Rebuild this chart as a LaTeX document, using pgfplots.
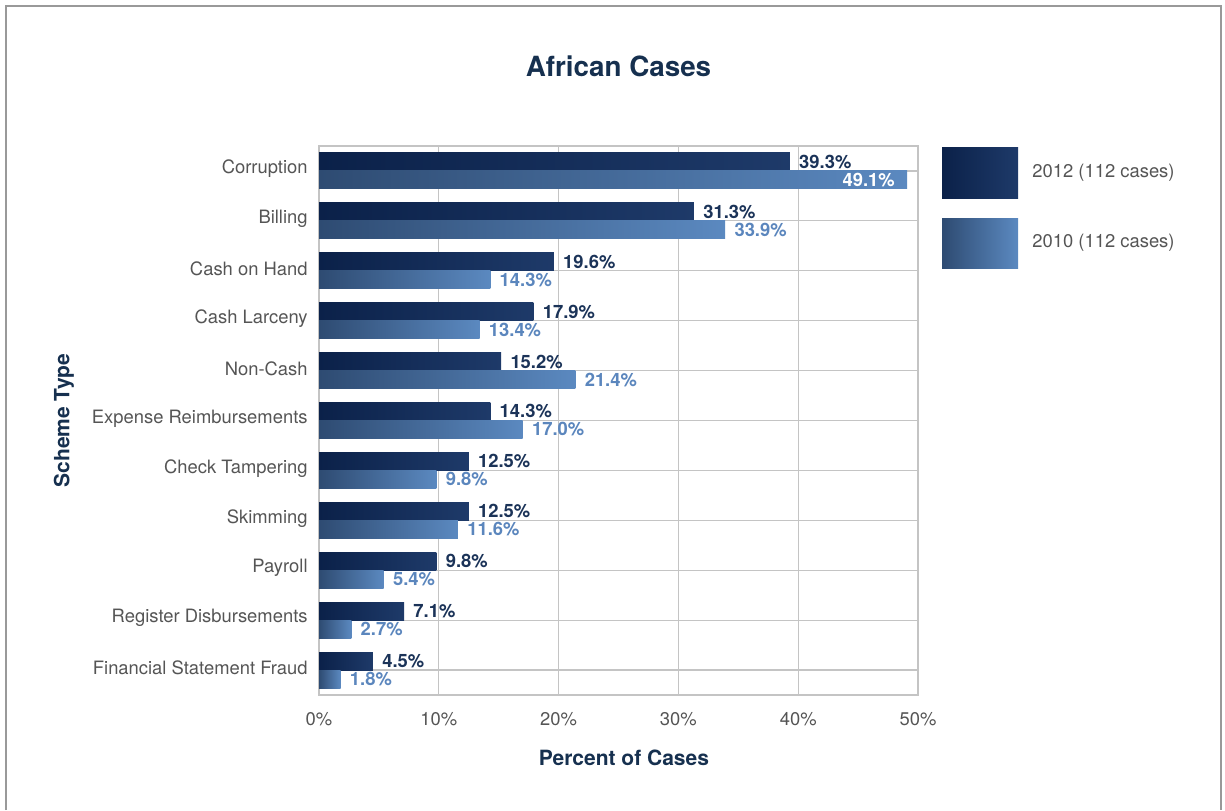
\documentclass[border=0pt]{standalone}
\usepackage{fontspec}
\setmainfont{TeX Gyre Heros}
\usepackage{pgfplots}
\pgfplotsset{compat=1.18}
\definecolor{navy}{HTML}{16304F}
\definecolor{lblA}{HTML}{1B3358}
\definecolor{lblB}{HTML}{5B86BD}
\definecolor{gA1}{HTML}{0B2149}
\definecolor{gA2}{HTML}{1E3A69}
\definecolor{gB1}{HTML}{2E4B72}
\definecolor{gB2}{HTML}{5B89C0}
\definecolor{tickgray}{HTML}{555555}
\definecolor{gridgray}{HTML}{C4C4C4}
\pgfplotsset{
  barA/.style={bar shift=4.5pt, draw=none, left color=gA1, right color=gA2,
    every node near coord/.append style={color=lblA}},
  barB/.style={bar shift=-4.5pt, draw=none, left color=gB1, right color=gB2,
    every node near coord/.append style={color=lblB}},
}
% one \addplot per bar, so that each bar carries its own gradient
\newcommand{\barA}[2]{\addplot[barA] coordinates {(#1,#2)};}
\newcommand{\barB}[2]{\addplot[barB] coordinates {(#1,#2)};}
\begin{document}
\begin{tikzpicture}
\useasboundingbox (0,0) rectangle (612.5pt,405pt);
\draw[line width=1pt, color=gray!80] (3pt,0) -- (3pt,402pt) -- (610.5pt,402pt) -- (610.5pt,0);
\begin{axis}[
  at={(159.5pt,57.5pt)}, anchor=south west,
  scale only axis, width=299.5pt, height=274.5pt,
  xbar, bar width=9pt,
  xmin=0, xmax=50, ymin=-0.5, ymax=10.5,
  enlargelimits=false,
  xtick={0,10,20,30,40,50},
  xticklabel={\pgfmathprintnumber{\tick}\%},
  ytick={0,...,10},
  yticklabels={Financial Statement Fraud, Register Disbursements, Payroll, Skimming, Check Tampering, Expense Reimbursements, Non-Cash, Cash Larceny, Cash on Hand, Billing, Corruption},
  /pgf/number format/assume math mode=true,
  major tick length=0pt,
  xmajorgrids, ymajorgrids,
  grid style={color=gridgray, line width=0.6pt},
  axis line style={color=gridgray, line width=0.6pt},
  tick label style={font=\fontsize{9.2}{11}\selectfont, color=tickgray},
  yticklabel style={inner sep=0pt, xshift=-5.5pt, yshift=1pt},
  xticklabel style={inner sep=0pt, yshift=-8.5pt},
  title={African Cases},
  title style={font=\fontsize{13.9}{16}\selectfont\bfseries, color=navy, at={(axis description cs:0.5,1.1239)}, anchor=center},
  xlabel={Percent of Cases},
  xlabel style={font=\fontsize{10.5}{12}\selectfont\bfseries, color=navy, at={(axis description cs:0.509,-0.1148)}, anchor=center},
  ylabel={Scheme Type},
  ylabel style={font=\fontsize{10.5}{12}\selectfont\bfseries, color=navy, at={(axis description cs:-0.4257,0.5)}, anchor=center},
  point meta=x,
  nodes near coords={\pgfmathprintnumber[fixed,fixed zerofill,precision=1]{\pgfplotspointmeta}\%},
  every node near coord/.append style={font=\fontsize{9.2}{11}\selectfont\bfseries, inner sep=0pt, anchor=west, xshift=4.5pt},
]
% 2012 (112 cases)
\barA{39.3}{10}
\barA{31.3}{9}
\barA{19.6}{8}
\barA{17.9}{7}
\barA{15.2}{6}
\barA{14.3}{5}
\barA{12.5}{4}
\barA{12.5}{3}
\barA{9.8}{2}
\barA{7.1}{1}
\barA{4.5}{0}
% 2010 (112 cases)
\addplot[barB, every node near coord/.append style={color=white, anchor=east, xshift=-10.5pt}] coordinates {(49.1,10)};
\barB{33.9}{9}
\barB{14.3}{8}
\barB{13.4}{7}
\barB{21.4}{6}
\barB{17.0}{5}
\barB{9.8}{4}
\barB{11.6}{3}
\barB{5.4}{2}
\barB{2.7}{1}
\barB{1.8}{0}
\end{axis}
% legend
\shade[left color=gA1, right color=gA2] (471pt,305.5pt) rectangle (509pt,331pt);
\shade[left color=gB1, right color=gB2] (471pt,270.5pt) rectangle (509pt,295.5pt);
\node[anchor=west, inner sep=0pt, font=\fontsize{9.2}{11}\selectfont, color=tickgray] at (516pt,318.5pt) {2012 (112 cases)};
\node[anchor=west, inner sep=0pt, font=\fontsize{9.2}{11}\selectfont, color=tickgray] at (516pt,283.5pt) {2010 (112 cases)};
\end{tikzpicture}
\end{document}
